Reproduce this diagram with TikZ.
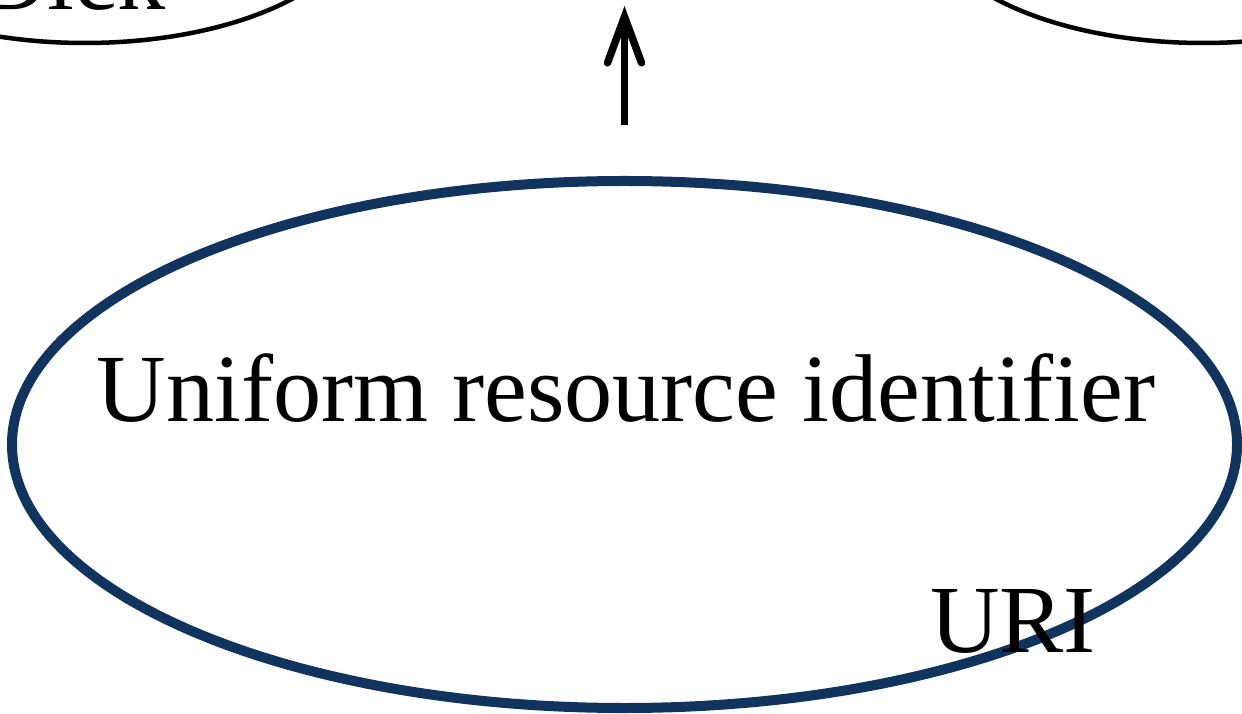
\documentclass[tikz,border=0pt]{standalone}
\usepackage{fontspec}
\setmainfont{Liberation Serif}
\usetikzlibrary{shapes.geometric,arrows.meta}
\definecolor{uriblue}{HTML}{10345E}
\begin{document}
\begin{tikzpicture}[auto,
    concept/.style ={ellipse, draw, line width=0.045cm, inner sep=0pt,
      minimum width=5.52cm, minimum height=2.6cm},
    mainconcept/.style ={ellipse, draw=uriblue, line width=0.1cm, inner sep=0pt,
      minimum width=12.25cm, minimum height=5.27cm},
    word/.style ={font=\fontsize{27.4}{32}\selectfont, inner sep=0pt, anchor=base}]
   \useasboundingbox (0,0) rectangle (12.42,7.13);
   \clip (0,0) rectangle (12.42,7.13);
   \node[concept] (dick) at (0.85,8.0) {};
   \node[concept] (other) at (12.03,8.0) {};
   \node[word] (dicktext) at (0.72,7.03) {Dick};
   \node[mainconcept] (uri) at (6.245,2.685) {};
   \node[word] (uriname) at (6.26,2.91) {Uniform resource identifier};
   \node[word] (uriabbr) at (10.13,0.61) {URI};
   \coordinate (up) at (6.245,7.07);
   \draw[line width=0.065cm, -{Straight Barb[length=4.6mm,width=3.4mm,line width=0.075cm,line cap=round]}]
      ([yshift=0.51cm]uri.north) -- (up);
 \end{tikzpicture}
\end{document}
